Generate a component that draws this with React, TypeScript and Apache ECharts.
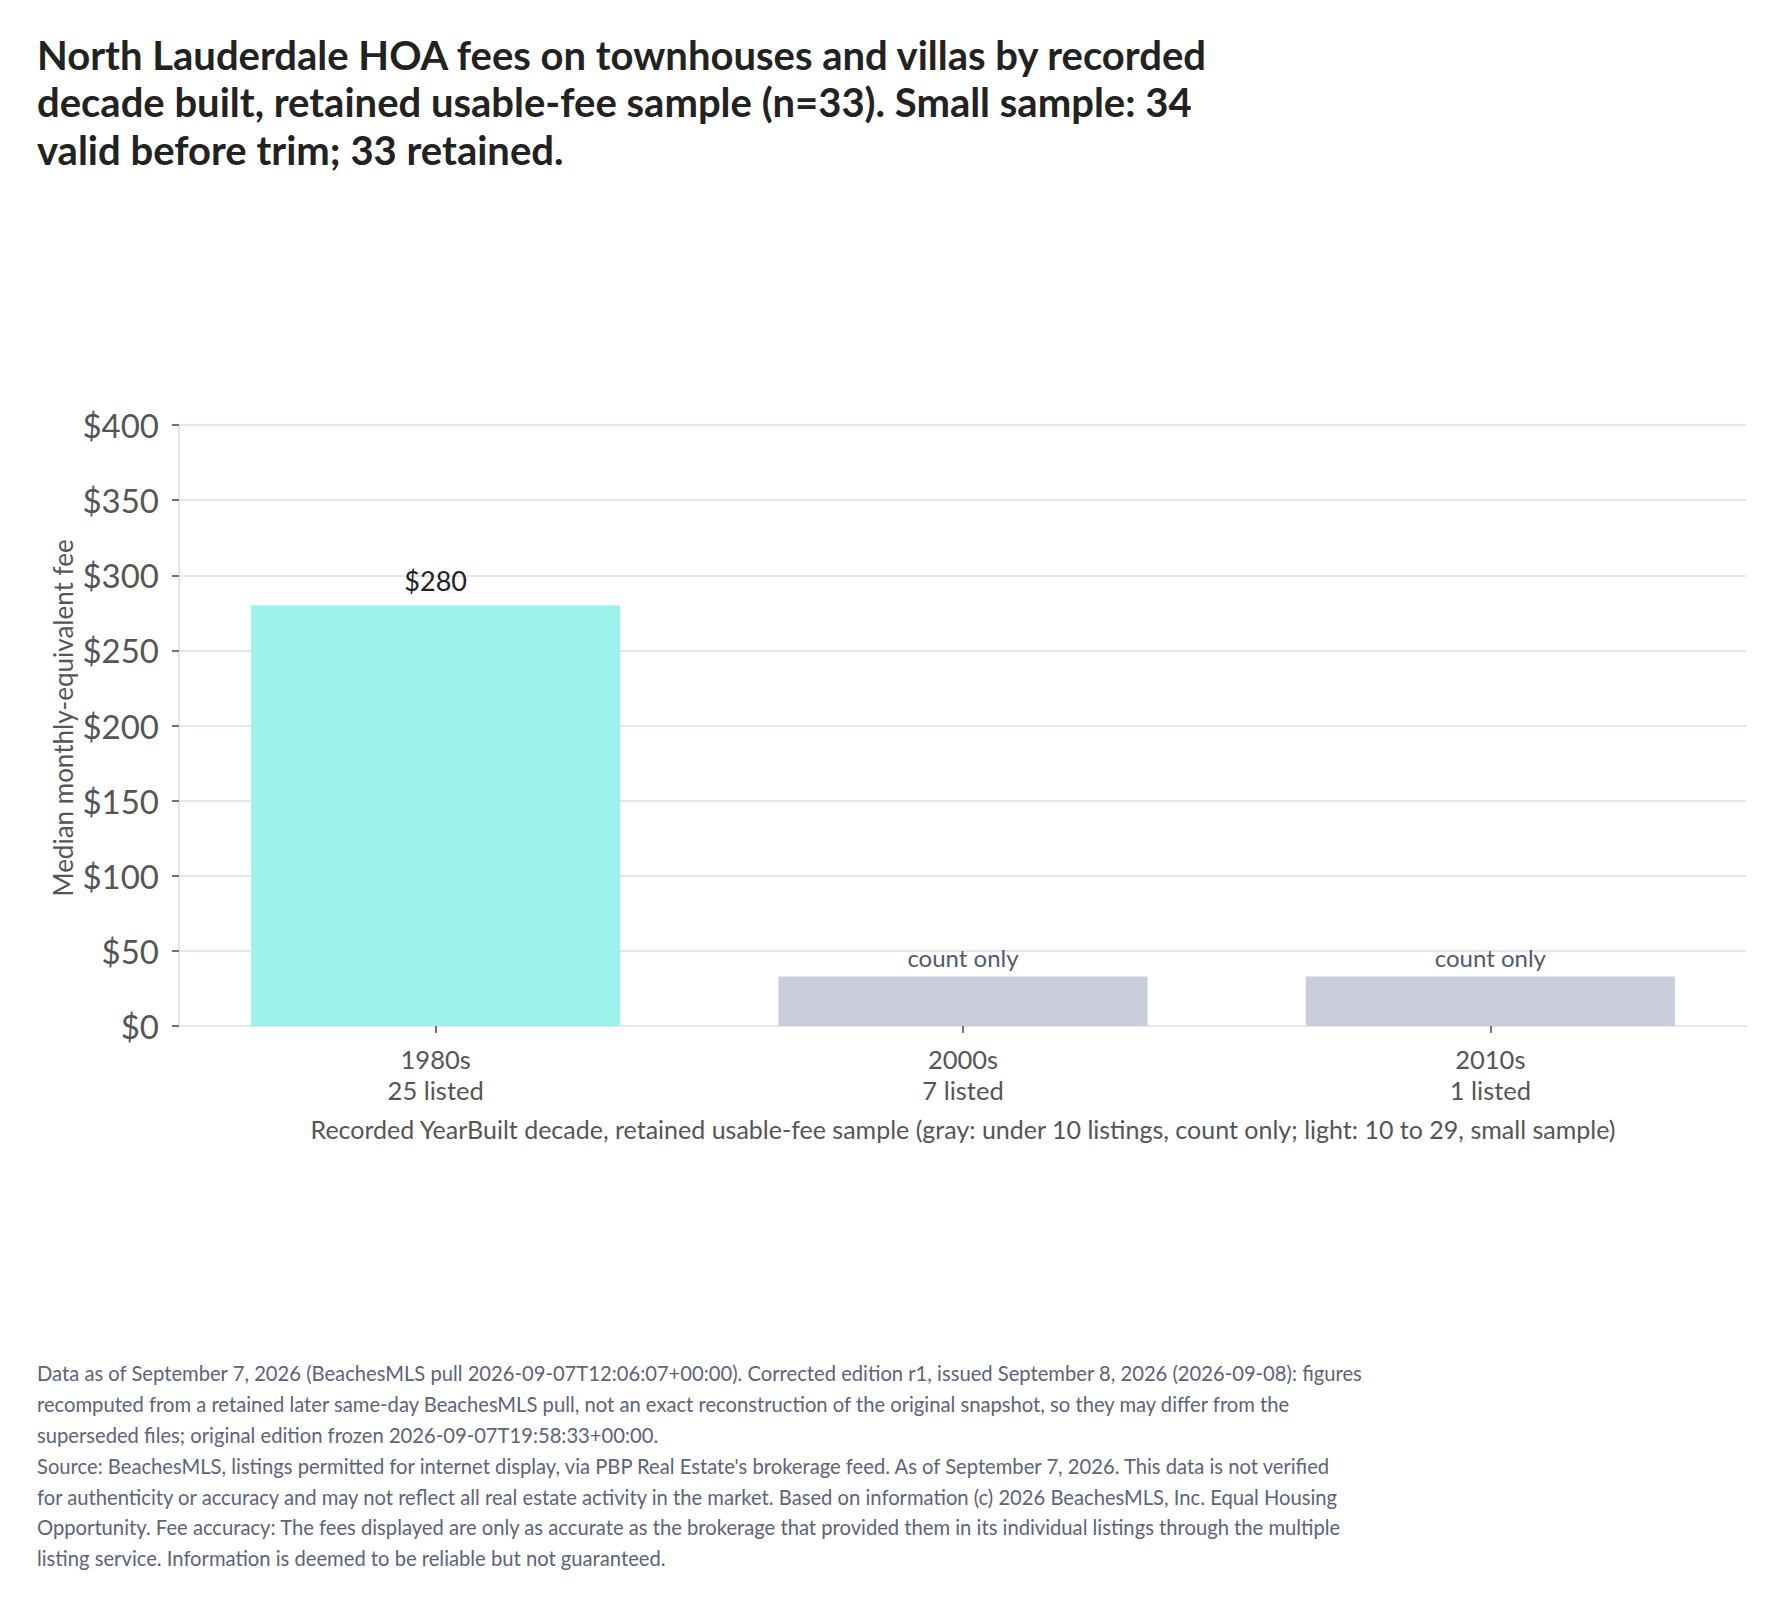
import React, { useEffect, useRef } from "react";
import * as echarts from "echarts";

const titleLines = [
  "North Lauderdale HOA fees on townhouses and villas by recorded",
  "decade built, retained usable-fee sample (n=33). Small sample: 34",
  "valid before trim; 33 retained.",
];
const categories = ["1980s", "2000s", "2010s"];
const listedCounts = [25, 7, 1];
const medianFees: (number | null)[] = [280, null, null];
const countOnlyPlaceholder = 33;
const yTicks = [0, 50, 100, 150, 200, 250, 300, 350, 400];
const yAxisTitle = "Median monthly-equivalent fee";
const xAxisTitle =
  "Recorded YearBuilt decade, retained usable-fee sample (gray: under 10 listings, count only; light: 10 to 29, small sample)";
const footerLines = [
  "Data as of September 7, 2026 (BeachesMLS pull 2026-09-07T12:06:07+00:00). Corrected edition r1, issued September 8, 2026 (2026-09-08): figures",
  "recomputed from a retained later same-day BeachesMLS pull, not an exact reconstruction of the original snapshot, so they may differ from the",
  "superseded files; original edition frozen 2026-09-07T19:58:33+00:00.",
  "Source: BeachesMLS, listings permitted for internet display, via PBP Real Estate's brokerage feed. As of September 7, 2026. This data is not verified",
  "for authenticity or accuracy and may not reflect all real estate activity in the market. Based on information (c) 2026 BeachesMLS, Inc. Equal Housing",
  "Opportunity. Fee accuracy: The fees displayed are only as accurate as the brokerage that provided them in its individual listings through the multiple",
  "listing service. Information is deemed to be reliable but not guaranteed.",
];

const FONT = "Lato, 'Noto Sans', sans-serif";
const GRID_COLOR = "#e4e5f1";
const TICK_COLOR = "#444";
const LABEL_COLOR = "#555";

export default function App() {
  const ref = useRef<HTMLDivElement>(null);
  useEffect(() => {
    document.body.style.margin = "0";
    if (!ref.current) return;
    const chart = echarts.init(ref.current, null, { renderer: "svg" });
    const xLabels = categories.map((c, i) => `${c}\n${listedCounts[i]} listed`);
    const barData = categories.map((c, i) => {
      const v = medianFees[i];
      const isCount = v === null;
      return {
        value: isCount ? countOnlyPlaceholder : v,
        itemStyle: { color: isCount ? "#c9cddc" : "#9ef2ec" },
        label: isCount
          ? {
              show: true,
              position: "top",
              distance: 7,
              formatter: "count only",
              color: "#505a70",
              fontSize: 24,
              fontFamily: FONT,
            }
          : {
              show: true,
              position: "top",
              distance: 11,
              formatter: "$" + v,
              color: "#222",
              fontSize: 27,
              fontFamily: FONT,
            },
      };
    });
    const top = 425;
    const bottom = 1605 - 1026;
    chart.setOption({
      animation: false,
      backgroundColor: "#fff",
      grid: [
        { left: 172, right: 28, top, bottom },
        { left: 179, right: 36, top, bottom },
      ],
      xAxis: [
        {
          type: "category",
          gridIndex: 0,
          data: xLabels,
          axisLine: { show: false },
          axisTick: { show: true, alignWithLabel: true, length: 7, lineStyle: { color: TICK_COLOR, width: 1.5 } },
          axisLabel: { margin: 17, fontSize: 25.5, lineHeight: 31, color: LABEL_COLOR, fontFamily: FONT },
          splitLine: { show: false },
        },
        {
          type: "category",
          gridIndex: 1,
          data: xLabels,
          axisLine: { show: true, lineStyle: { color: GRID_COLOR, width: 2 } },
          axisTick: { show: false },
          axisLabel: { show: false },
          splitLine: { show: false },
        },
      ],
      yAxis: [
        { type: "value", gridIndex: 0, min: 0, max: 400, show: false, splitLine: { show: false } },
        {
          type: "value",
          gridIndex: 1,
          min: yTicks[0],
          max: yTicks[yTicks.length - 1],
          interval: yTicks[1] - yTicks[0],
          axisLine: { show: true, lineStyle: { color: GRID_COLOR, width: 2 } },
          axisTick: { show: true, length: 7, lineStyle: { color: TICK_COLOR, width: 1.5 } },
          axisLabel: {
            margin: 20,
            fontSize: 33,
            color: LABEL_COLOR,
            fontFamily: FONT,
            formatter: (v: number) => "$" + v,
          },
          splitLine: { show: true, lineStyle: { color: GRID_COLOR, width: 2 } },
        },
      ],
      series: [
        {
          type: "bar",
          xAxisIndex: 0,
          yAxisIndex: 0,
          data: barData,
          barCategoryGap: "30%",
          z: 3,
        },
      ],
      graphic: [
        {
          type: "text",
          left: 37,
          top: 31,
          style: {
            text: titleLines.join("\n"),
            fontSize: 40,
            fontWeight: "bold",
            fontFamily: FONT,
            fill: "#222",
            lineHeight: 47.5,
          },
        },
        {
          type: "text",
          x: 63,
          y: 718,
          rotation: Math.PI / 2,
          style: {
            text: yAxisTitle,
            fontSize: 26,
            fontFamily: FONT,
            fill: LABEL_COLOR,
            align: "center",
            verticalAlign: "middle",
          },
        },
        {
          type: "text",
          x: 963,
          y: 1129,
          style: {
            text: xAxisTitle,
            fontSize: 25,
            fontFamily: FONT,
            fill: LABEL_COLOR,
            align: "center",
            verticalAlign: "middle",
          },
        },
        {
          type: "text",
          left: 37,
          top: 1358,
          style: {
            text: footerLines.join("\n"),
            fontSize: 20.2,
            fontFamily: FONT,
            fill: "#5b6478",
            lineHeight: 30.8,
          },
        },
      ],
    });
    return () => chart.dispose();
  }, []);
  return <div ref={ref} style={{ width: 1782, height: 1605 }} />;
}
